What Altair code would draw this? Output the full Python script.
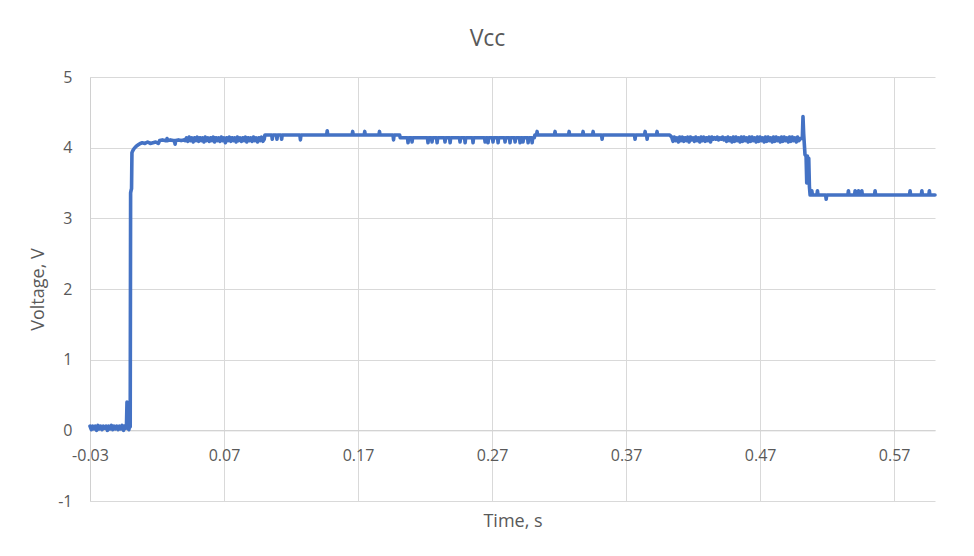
import altair as alt
import pandas as pd

# ---------------- data ----------------
x_ticks = [-0.03, 0.07, 0.17, 0.27, 0.37, 0.47, 0.57]
y_ticks = [-1, 0, 1, 2, 3, 4, 5]

# off state before switch-on (noisy band near 0 V)
t_off = [-0.030, -0.029, -0.028, -0.027, -0.026, -0.025, -0.024, -0.023, -0.022, -0.021,
         -0.020, -0.019, -0.018, -0.017, -0.016, -0.015, -0.014, -0.013, -0.012, -0.011,
         -0.010, -0.009, -0.008, -0.007, -0.006, -0.005, -0.004,
         -0.0032, -0.0028, -0.0024, -0.0020, -0.0010, -0.0004]
v_off = [0.06, 0.01, 0.06, 0.02, 0.06, 0.00, 0.07, 0.02, 0.06, 0.01,
         0.06, 0.03, 0.06, 0.00, 0.06, 0.02, 0.07, 0.01, 0.06, 0.02,
         0.06, 0.01, 0.06, 0.02, 0.07, 0.00, 0.06,
         0.03, 0.05, 0.40, 0.04, 0.01, 0.06]

# switch-on edge
t_rise = [0.0000, 0.0003, 0.0007, 0.0010, 0.0013, 0.0020, 0.0030, 0.0045, 0.0060, 0.0075]
v_rise = [0.05, 3.36, 3.40, 3.42, 3.93, 3.96, 3.99, 4.02, 4.04, 4.06]

# early plateau
t_early = [0.0090, 0.0110, 0.0130, 0.0150, 0.0170, 0.0190, 0.0210, 0.0220, 0.0240, 0.0260,
           0.0270, 0.0275, 0.0280, 0.0300, 0.0320, 0.0330, 0.0335, 0.0340, 0.0360, 0.0380,
           0.0400, 0.0410]
v_early = [4.07, 4.06, 4.08, 4.06, 4.07, 4.08, 4.06, 4.10, 4.11, 4.10,
           4.10, 4.13, 4.10, 4.11, 4.10, 4.10, 4.05, 4.10, 4.11, 4.10,
           4.11, 4.10]

# dense noisy band 0.042 - 0.100 s
t_band1 = [0.042, 0.043, 0.044, 0.045, 0.046, 0.047, 0.048, 0.049, 0.050, 0.051,
           0.052, 0.053, 0.054, 0.055, 0.056, 0.057, 0.058, 0.059, 0.060, 0.061,
           0.062, 0.063, 0.064, 0.065, 0.066, 0.067, 0.068, 0.069, 0.070, 0.071,
           0.072, 0.073, 0.074, 0.075, 0.076, 0.077, 0.078, 0.079, 0.080, 0.081,
           0.082, 0.083, 0.084, 0.085, 0.086, 0.087, 0.088, 0.089, 0.090, 0.091,
           0.092, 0.093, 0.094, 0.095, 0.096, 0.097, 0.098, 0.099, 0.100]
v_band1 = [4.14, 4.09, 4.15, 4.10, 4.14, 4.08, 4.14, 4.10, 4.15, 4.09,
           4.14, 4.10, 4.14, 4.08, 4.15, 4.10, 4.14, 4.09, 4.14, 4.10,
           4.15, 4.08, 4.14, 4.10, 4.14, 4.09, 4.15, 4.10, 4.14, 4.07,
           4.14, 4.10, 4.15, 4.09, 4.14, 4.10, 4.14, 4.08, 4.15, 4.10,
           4.14, 4.09, 4.14, 4.10, 4.15, 4.08, 4.14, 4.10, 4.14, 4.09,
           4.15, 4.10, 4.14, 4.08, 4.14, 4.10, 4.15, 4.09, 4.12]

# 0.1 - 0.2 s : level 4.18 with isolated spikes
seg2_base = 4.18
seg2_range = [0.1005, 0.2010]
seg2_spike_t = [0.1060, 0.1095, 0.1130, 0.1270, 0.1470, 0.1660, 0.1750, 0.1860, 0.1965]
seg2_spike_v = [4.12, 4.12, 4.12, 4.11, 4.24, 4.23, 4.23, 4.23, 4.11]

# 0.2 - 0.3 s : level 4.14 with many dips
seg3_base = 4.14
seg3_range = [0.2015, 0.3015]
seg3_spike_t = [0.2073, 0.2103, 0.2222, 0.2252, 0.2290, 0.2349, 0.2387, 0.2461, 0.2499, 0.2558,
                0.2648, 0.2670, 0.2707, 0.2745, 0.2797, 0.2834, 0.2872, 0.2909, 0.2931, 0.2969,
                0.2999]
seg3_spike_v = [4.07, 4.08, 4.07, 4.08, 4.07, 4.08, 4.07, 4.08, 4.07, 4.07,
                4.08, 4.07, 4.08, 4.07, 4.08, 4.07, 4.08, 4.07, 4.08, 4.07,
                4.07]

# 0.3 - 0.4 s : level 4.18 with isolated spikes
seg4_base = 4.18
seg4_range = [0.3020, 0.4025]
seg4_spike_t = [0.3036, 0.3170, 0.3275, 0.3379, 0.3454, 0.3521, 0.3767, 0.3842, 0.3857, 0.3931]
seg4_spike_v = [4.23, 4.23, 4.23, 4.23, 4.23, 4.12, 4.12, 4.23, 4.12, 4.23]

# dense noisy band 0.404 - 0.500 s
t_band2 = [0.404, 0.405, 0.406, 0.407, 0.408, 0.409, 0.410, 0.411, 0.412, 0.413,
           0.414, 0.415, 0.416, 0.417, 0.418, 0.419, 0.420, 0.421, 0.422, 0.423,
           0.424, 0.425, 0.426, 0.427, 0.428, 0.429, 0.430, 0.431, 0.432, 0.433,
           0.434, 0.435, 0.436, 0.437, 0.438, 0.439, 0.440, 0.441, 0.442, 0.443,
           0.444, 0.445, 0.446, 0.447, 0.448, 0.449, 0.450, 0.451, 0.452, 0.453,
           0.454, 0.455, 0.456, 0.457, 0.458, 0.459, 0.460, 0.461, 0.462, 0.463,
           0.464, 0.465, 0.466, 0.467, 0.468, 0.469, 0.470, 0.471, 0.472, 0.473,
           0.474, 0.475, 0.476, 0.477, 0.478, 0.479, 0.480, 0.481, 0.482, 0.483,
           0.484, 0.485, 0.486, 0.487, 0.488, 0.489, 0.490, 0.491, 0.492, 0.493,
           0.494, 0.495, 0.496, 0.497, 0.498, 0.499, 0.500]
v_band2 = [4.15, 4.09, 4.15, 4.10, 4.14, 4.08, 4.15, 4.10, 4.15, 4.09,
           4.14, 4.10, 4.15, 4.08, 4.15, 4.11, 4.14, 4.09, 4.15, 4.10,
           4.14, 4.08, 4.15, 4.10, 4.15, 4.09, 4.14, 4.10, 4.15, 4.08,
           4.15, 4.12, 4.14, 4.12, 4.15, 4.11, 4.14, 4.12, 4.15, 4.11,
           4.14, 4.09, 4.15, 4.10, 4.14, 4.08, 4.15, 4.09, 4.15, 4.10,
           4.14, 4.08, 4.15, 4.09, 4.15, 4.10, 4.14, 4.08, 4.15, 4.09,
           4.15, 4.10, 4.14, 4.08, 4.15, 4.09, 4.15, 4.10, 4.14, 4.08,
           4.15, 4.09, 4.15, 4.10, 4.14, 4.08, 4.15, 4.09, 4.15, 4.10,
           4.14, 4.08, 4.15, 4.09, 4.15, 4.10, 4.14, 4.08, 4.15, 4.09,
           4.15, 4.10, 4.14, 4.08, 4.15, 4.10, 4.13]

# load-step transient around 0.5 s
t_drop = [0.5015, 0.5020, 0.5025, 0.5035, 0.5043, 0.5048, 0.5053, 0.5058, 0.5063, 0.5068, 0.5073]
v_drop = [4.13, 4.44, 4.20, 3.90, 3.88, 3.50, 3.88, 3.50, 3.85, 3.45, 3.33]

# 0.507 - 0.6 s : level 3.33 with spikes
seg5_base = 3.33
seg5_range = [0.5076, 0.6005]
seg5_spike_t = [0.5086, 0.5128, 0.5193, 0.5359, 0.5409, 0.5434, 0.5459, 0.5558, 0.5819, 0.5907, 0.5963]
seg5_spike_v = [3.39, 3.39, 3.27, 3.39, 3.39, 3.39, 3.39, 3.39, 3.39, 3.39, 3.39]

# ---------------- table ----------------
rows = []


def add(ts, vs):
    for t, v in zip(ts, vs):
        rows.append({"t": t, "v": v})


def add_spiky(rng, base, sp_t, sp_v, w=0.0004):
    rows.append({"t": rng[0], "v": base})
    for t, v in zip(sp_t, sp_v):
        rows.append({"t": t - w, "v": base})
        rows.append({"t": t, "v": v})
        rows.append({"t": t + w, "v": base})
    rows.append({"t": rng[1], "v": base})


add(t_off, v_off)
add(t_rise, v_rise)
add(t_early, v_early)
add(t_band1, v_band1)
add_spiky(seg2_range, seg2_base, seg2_spike_t, seg2_spike_v)
add_spiky(seg3_range, seg3_base, seg3_spike_t, seg3_spike_v)
add_spiky(seg4_range, seg4_base, seg4_spike_t, seg4_spike_v)
add(t_band2, v_band2)
add(t_drop, v_drop)
add_spiky(seg5_range, seg5_base, seg5_spike_t, seg5_spike_v)

df = pd.DataFrame(rows)
df["o"] = range(len(df))

FONT = "Open Sans"
GREY_TEXT = "#595959"
GRID = "#d9d9d9"

line = alt.Chart(df).mark_line(
    color="#4472C4", strokeWidth=3.6, strokeJoin="round", strokeCap="round"
).encode(
    x=alt.X(
        "t:Q",
        scale=alt.Scale(domain=[-0.03, 0.6005], nice=False, zero=False),
        axis=alt.Axis(
            values=x_ticks,
            labelExpr="datum.value < 0 ? '-' + format(-datum.value, '.2f') : format(datum.value, '.2f')",
            title="Time, s",
            offset=-70.67,
            grid=True,
            gridColor=GRID,
            domainColor="#d0d0d0",
            ticks=False,
            tickSize=0,
            labelPadding=17,
            labelFontSize=16,
            labelColor=GREY_TEXT,
            labelFont=FONT,
            titleFont=FONT,
            titleFontSize=18,
            titleFontWeight="normal",
            titleColor=GREY_TEXT,
            titleY=96,
            titleBaseline="alphabetic",
            labelFlush=False,
            labelOverlap=False,
        ),
    ),
    y=alt.Y(
        "v:Q",
        scale=alt.Scale(domain=[-1, 5], nice=False, zero=False),
        axis=alt.Axis(
            values=y_ticks,
            labelExpr="datum.value < 0 ? '-' + format(-datum.value, 'd') : format(datum.value, 'd')",
            title="Voltage, V",
            grid=True,
            gridColor=GRID,
            domainColor="#d0d0d0",
            ticks=False,
            tickSize=0,
            labelPadding=18,
            labelFontSize=16,
            labelColor=GREY_TEXT,
            labelFont=FONT,
            titleFont=FONT,
            titleFontSize=18,
            titleFontWeight="normal",
            titleColor=GREY_TEXT,
            titlePadding=10,
            labelFlush=False,
            labelOverlap=False,
        ),
    ),
    order="o:Q",
)

chart = line.properties(
    width=845,
    height=424,
    title=alt.TitleParams(
        "Vcc",
        fontSize=23,
        font=FONT,
        fontWeight="normal",
        color=GREY_TEXT,
        anchor="middle",
        frame="group",
        baseline="alphabetic",
        offset=0,
        dx=-25,
    ),
    autosize=alt.AutoSizeParams(type="none"),
    padding={"left": 90, "top": 77, "right": 39, "bottom": 55},
    background="white",
).configure_view(stroke=None)

chart.save("out.html", embed_options={"renderer": "svg", "actions": False})
